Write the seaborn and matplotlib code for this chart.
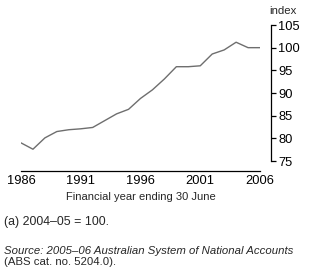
import matplotlib
matplotlib.use("Agg")
import matplotlib.pyplot as plt
import seaborn as sns
import pandas as pd

years = list(range(1986, 2007))
index_values = [79.0, 77.6, 80.1, 81.5, 81.9, 82.1, 82.4, 83.9, 85.4, 86.4,
                88.8, 90.7, 93.1, 95.8, 95.8, 96.0, 98.6, 99.5, 101.2, 100.0, 100.0]
x_ticks = [1986, 1991, 1996, 2001, 2006]
y_ticks = [75, 80, 85, 90, 95, 100, 105]

df = pd.DataFrame({"year": years, "index": index_values})

sns.set_style("white")
plt.rcParams["font.family"] = ["Liberation Sans", "DejaVu Sans"]

fig = plt.figure(figsize=(3.09, 2.77), dpi=100)
ax = fig.add_axes([21/309, 1 - 161/277, (260-21)/309, (161-25)/277])

sns.lineplot(data=df, x="year", y="index", ax=ax, color="#6e6e6e", linewidth=1.0)

ax.set_xlim(1986, 2006)
ax.set_ylim(75, 105)
ax.set_xticks(years, minor=False)
ax.set_xticklabels([str(y) if y in x_ticks else "" for y in years])
ax.set_yticks(y_ticks)
ax.set_yticklabels([str(v) for v in y_ticks])

for s in ["top", "left"]:
    ax.spines[s].set_visible(False)
ax.spines["bottom"].set_position(("outward", 7))
ax.spines["right"].set_position(("outward", 8))
for s in ["bottom", "right"]:
    ax.spines[s].set_color("black")
    ax.spines[s].set_linewidth(0.9)

ax.yaxis.tick_right()
ax.tick_params(axis="x", direction="in", length=4, width=0.9, labelsize=9.3, pad=3, colors="black")
ax.tick_params(axis="y", direction="out", length=3.5, width=0.9, labelsize=9.3, pad=1.5, colors="black")
ax.set_xlabel("")
ax.set_ylabel("")

fig.text(269/309, 1 - 11/277, "index", fontsize=8.2, ha="left", va="center")
fig.text(140.5/309, 1 - 197/277, "Financial year ending 30 June", fontsize=8, ha="center", va="center")
fig.text(4/309, 1 - 222/277, "(a) 2004\u201305 = 100.", fontsize=8.9, ha="left", va="center")
fig.text(4/309, 1 - 251/277, "Source: 2005\u201306 Australian System of National Accounts",
         fontsize=8.2, style="italic", ha="left", va="center")
fig.text(4/309, 1 - 262/277, "(ABS cat. no. 5204.0).", fontsize=8.2, ha="left", va="center")

fig.savefig("out.png", dpi=100)
